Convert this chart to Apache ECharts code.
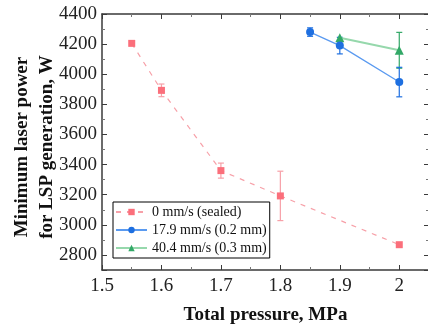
<!DOCTYPE html>
<html><head><meta charset="utf-8">
<script src="https://cdn.jsdelivr.net/npm/echarts@6/dist/echarts.min.js"></script>
<style>html,body{margin:0;padding:0;background:#fff}#c{width:428px;height:324px}</style>
</head><body><div id="c"></div>
<script>
// Data
const sealedX = [1.55, 1.6, 1.7, 1.8, 2.0];
const sealedY = [4205, 3893, 3360, 3192, 2868];
const sealedErr = [0, 42, 50, 164, 0];
const s179X = [1.85, 1.9, 2.0];
const s179Y = [4280, 4190, 3948];
const s179Err = [28, 55, 98];
const s404X = [1.9, 2.0];
const s404Y = [4242, 4159];
const s404Err = [0, 119];
const names = ['0 mm/s (sealed)', '17.9 mm/s (0.2 mm)', '40.4 mm/s (0.3 mm)'];
const xTicks = [1.5, 1.6, 1.7, 1.8, 1.9, 2];
const yTicks = [2800, 3000, 3200, 3400, 3600, 3800, 4000, 4200, 4400];

const redM = '#fb6f7b', redL = '#f7a0a8';
const blueM = '#1e6fe0', blueL = '#5a9af0';
const greenM = '#32a867', greenL = '#96d8ac';
const FONT = '"Liberation Serif", "DejaVu Serif", serif';

function pairs(xs, ys){ return xs.map((x,i)=>[x, ys[i]]); }
function errData(xs, ys, es){ return xs.map((x,i)=>[x, ys[i]-es[i], ys[i]+es[i]]).filter((d,i)=>es[i]>0); }
function errSeries(data, color){
  return {
    type:'custom', data: data, z: 1, silent: true,
    renderItem: function(params, api){
      const x = api.value(0);
      const lo = api.coord([x, api.value(1)]);
      const hi = api.coord([x, api.value(2)]);
      const w = 3;
      const st = {stroke: color, lineWidth: 1.2};
      return {type:'group', children:[
        {type:'line', shape:{x1:lo[0], y1:lo[1], x2:hi[0], y2:hi[1]}, style: st},
        {type:'line', shape:{x1:lo[0]-w, y1:lo[1], x2:lo[0]+w, y2:lo[1]}, style: st},
        {type:'line', shape:{x1:hi[0]-w, y1:hi[1], x2:hi[0]+w, y2:hi[1]}, style: st}
      ]};
    }
  };
}

const axisLine = {show:true, lineStyle:{color:'#3a3a3a', width:1.5}};
const chart = echarts.init(document.getElementById('c'), null, {renderer:'canvas'});
chart.setOption({
  animation:false,
  grid:{left:102, top:14, width:327, height:256, containLabel:false, outerBoundsMode:'none'},
  legend:{
    data: names, orient:'vertical', left:113, top:202,
    borderColor:'#000', borderWidth:1, borderRadius:0, padding:[3,3,3,2],
    itemGap:4, itemWidth:31, itemHeight:8,
    textStyle:{fontFamily:FONT, fontSize:14, color:'#111'}
  },
  xAxis:[{
    type:'value', min:1.5, max:2.05, interval:0.1,
    axisLine: axisLine,
    axisTick:{show:true, inside:true, length:5, lineStyle:{color:'#3a3a3a', width:1}},
    minorTick:{show:true, splitNumber:2, length:3, lineStyle:{color:'#777'}},
    splitLine:{show:false},
    axisLabel:{fontFamily:FONT, fontSize:19, color:'#222', margin:7,
      formatter: v => xTicks.some(t=>Math.abs(t-v)<1e-9) ? String(Math.round(v*10)/10) : ''},
    name:'Total pressure, MPa', nameLocation:'middle', nameGap:36, nameMoveOverlap:false,
    nameTextStyle:{fontFamily:FONT, fontSize:19, fontWeight:'bold', color:'#111'}
  },{
    type:'value', position:'top', min:1.5, max:2.05, interval:0.1,
    axisLine: axisLine,
    axisTick:{show:true, inside:true, length:5, lineStyle:{color:'#3a3a3a'}},
    minorTick:{show:true, splitNumber:2, length:3, lineStyle:{color:'#777'}},
    axisLabel:{show:false}, splitLine:{show:false}
  }],
  yAxis:[{
    type:'value', min:2700, max:4400, splitNumber:8,
    axisLine: axisLine,
    axisTick:{show:true, inside:true, length:5, lineStyle:{color:'#3a3a3a'}},
    minorTick:{show:true, splitNumber:2, length:3, lineStyle:{color:'#777'}},
    splitLine:{show:false},
    axisLabel:{fontFamily:FONT, fontSize:19, color:'#222', margin:5,
      formatter: v => yTicks.indexOf(v) >= 0 ? String(v) : ''},
    name:'Minimum laser power\nfor LSP generation, W', nameLocation:'middle', nameGap:42, nameMoveOverlap:false,
    nameTextStyle:{fontFamily:FONT, fontSize:19, fontWeight:'bold', color:'#111', lineHeight:25, padding:[0,10,0,0]}
  },{
    type:'value', position:'right', min:2700, max:4400, splitNumber:8,
    axisLine: axisLine,
    axisTick:{show:true, inside:true, length:5, lineStyle:{color:'#3a3a3a'}},
    minorTick:{show:true, splitNumber:2, length:3, lineStyle:{color:'#777'}},
    axisLabel:{show:false}, splitLine:{show:false}
  }],
  series:[
    errSeries(errData(sealedX, sealedY, sealedErr), redL),
    errSeries(errData(s404X, s404Y, s404Err), greenM),
    errSeries(errData(s179X, s179Y, s179Err), blueM),
    {name:names[0], type:'line', data:pairs(sealedX, sealedY), z:3,
      symbol:'rect', symbolSize:7, itemStyle:{color:redM},
      lineStyle:{color:redL, width:1.2, type:[5,6]}},
    {name:names[2], type:'line', data:pairs(s404X, s404Y), z:3,
      symbol:'triangle', symbolSize:9, itemStyle:{color:greenM},
      lineStyle:{color:greenL, width:2}},
    {name:names[1], type:'line', data:pairs(s179X, s179Y), z:4,
      symbol:'circle', symbolSize:8, itemStyle:{color:blueM},
      lineStyle:{color:blueL, width:1.3}}
  ]
});
</script></body></html>
